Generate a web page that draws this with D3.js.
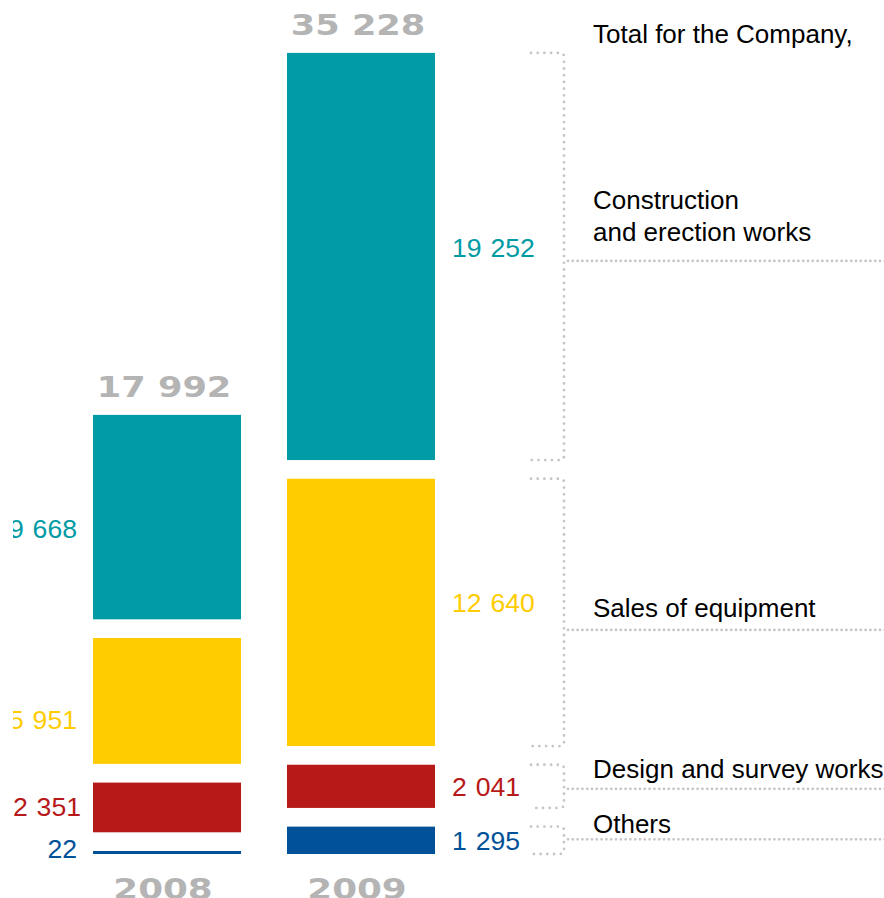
<!DOCTYPE html>
<html>
<head>
<meta charset="utf-8">
<script src="https://cdn.jsdelivr.net/npm/d3@7"></script>
<style>
  html, body { margin: 0; padding: 0; background: #fff; }
  svg { display: block; }
</style>
</head>
<body>
<svg id="chart" width="884" height="898"></svg>
<script>
// Revenue structure by activity, 2008 vs 2009 (stacked from the bottom up)
const years = ["2008", "2009"];
const categories = ["Others", "Design and survey works", "Sales of equipment", "Construction and erection works"];
const categoryLines = [["Others"], ["Design and survey works"], ["Sales of equipment"], ["Construction", "and erection works"]];
const values2008 = [22, 2351, 5951, 9668];
const values2009 = [1295, 2041, 12640, 19252];
const totals = [17992, 35228];
const totalCaption = "Total for the Company,";

const colors = ["#005197", "#B71818", "#FFCC00", "#009BA4"];

// layout
const W = 884, H = 898;
const baseY = 854;
const gap = 18.7;
const minBar = 3;
const font = "'Liberation Sans', Arial, Helvetica, sans-serif";

// offsets of the value labels from each segment's centre (baseline) and anchor (x)
const valueDy = [[5.5, 9, 28, 21], [10, 9.5, 0, 1]];
const valueDx = [[0, 4, 0, 0], [0, 0, 0, 0]];
// pointer line offsets from the 2009 segment centre, and caption offsets from the pointer
const pointerDy = [-1, 2.5, 17.5, 4.5];
const captionDy = [-6, -11, -13, -20];

const svg = d3.select("#chart");

// the left-hand labels are trimmed by the page margin
svg.append("defs").append("clipPath").attr("id", "leftMargin")
  .append("rect").attr("x", 13).attr("y", 0).attr("width", W).attr("height", H);

const x = d3.scaleBand().domain(years).range([93, 435]).paddingInner(0.237).paddingOuter(0);
const h = d3.scaleLinear().domain([0, 35228]).range([0, 745]);

const series = [values2008, values2009];
const fmt = v => d3.format(",")(v).replace(/,/g, " ");

// build stacked segments with gaps between them
const stacks = series.map((vals, yi) => {
  let y = baseY;
  return vals.map((v, ci) => {
    const bh = Math.max(h(v), minBar);
    const seg = { year: years[yi], yi, ci, value: v, y0: y - bh, y1: y };
    y = y - bh - gap;
    return seg;
  });
});

const segs = stacks.flat();

svg.append("g").selectAll("rect")
  .data(segs)
  .join("rect")
  .attr("x", d => x(d.year))
  .attr("width", x.bandwidth())
  .attr("y", d => d.y0)
  .attr("height", d => d.y1 - d.y0)
  .attr("fill", d => colors[d.ci]);

// value labels: 2008 to the left of its bar, 2009 to the right
svg.append("g").attr("clip-path", "url(#leftMargin)").selectAll("text")
  .data(segs)
  .join("text")
  .attr("x", d => (d.yi === 0 ? x(d.year) - 16 : x(d.year) + x.bandwidth() + 17) + valueDx[d.yi][d.ci])
  .attr("y", d => (d.y0 + d.y1) / 2 + valueDy[d.yi][d.ci])
  .attr("text-anchor", d => d.yi === 0 ? "end" : "start")
  .attr("font-family", font)
  .attr("font-size", 26.6)
  .attr("word-spacing", 1.5)
  .attr("fill", d => colors[d.ci])
  .text(d => fmt(d.value));

// totals above each bar and years below, in a wide grey bold face
const grey = "#B4B4B4";
years.forEach((yr, i) => {
  const cx = x(yr) + x.bandwidth() / 2;
  const top = stacks[i][stacks[i].length - 1].y0;
  svg.append("text")
    .attr("transform", `translate(${cx - 3},${top - 18}) scale(1.28,1)`)
    .attr("text-anchor", "middle")
    .attr("font-family", "'DejaVu Sans', Verdana, sans-serif")
    .attr("font-weight", "bold")
    .attr("font-size", 27.5)
    .attr("fill", grey)
    .text(fmt(totals[i]));
  svg.append("text")
    .attr("transform", `translate(${cx - 4},${H + 1}) scale(1.3,1)`)
    .attr("text-anchor", "middle")
    .attr("font-family", "'DejaVu Sans', Verdana, sans-serif")
    .attr("font-weight", "bold")
    .attr("font-size", 27.5)
    .attr("fill", grey)
    .text(yr);
});

// dotted brackets around the 2009 segments, with pointer lines to the captions
const dotColor = "#C6C6C6";
const bx0 = 531, bx1 = 564, r = 4;
const gB = svg.append("g").attr("fill", "none").attr("stroke", dotColor)
  .attr("stroke-width", 2.8).attr("stroke-linecap", "round");

gB.selectAll("path.bracket")
  .data(stacks[1])
  .join("path")
  .attr("class", "bracket")
  .attr("stroke-dasharray", "0 6.7")
  .attr("d", d => `M${bx0},${d.y0} H${bx1 - r} Q${bx1},${d.y0} ${bx1},${d.y0 + r} V${d.y1 - r} Q${bx1},${d.y1} ${bx1 - r},${d.y1} H${bx0}`);

const pointerY = d => (d.y0 + d.y1) / 2 + pointerDy[d.ci];

gB.selectAll("line.pointer")
  .data(stacks[1])
  .join("line")
  .attr("class", "pointer")
  .attr("stroke-dasharray", "0 4.8")
  .attr("x1", bx1 + 4).attr("x2", W + 2)
  .attr("y1", pointerY).attr("y2", pointerY);

// captions
const capX = 593;
const caps = svg.append("g").attr("font-family", font).attr("font-size", 26).attr("fill", "#000");
stacks[1].forEach(d => {
  const lines = categoryLines[d.ci];
  const lastBase = pointerY(d) + captionDy[d.ci];
  const t = caps.append("text").attr("x", capX).attr("y", lastBase - (lines.length - 1) * 32);
  lines.forEach((ln, k) => {
    t.append("tspan").attr("x", capX).attr("dy", k === 0 ? 0 : 32).text(ln);
  });
});
caps.append("text").attr("x", capX).attr("y", 43).text(totalCaption);
</script>
</body>
</html>
